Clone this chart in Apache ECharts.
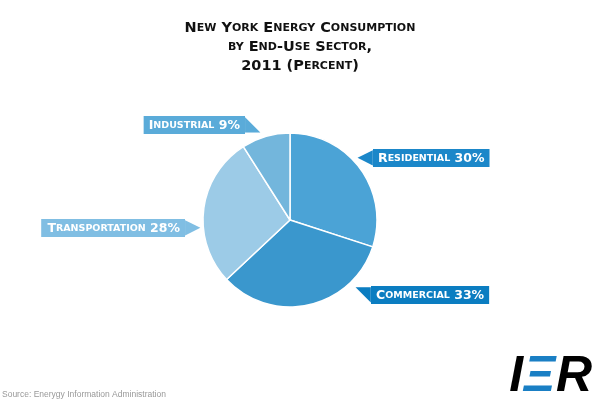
<!DOCTYPE html>
<html><head><meta charset="utf-8">
<script src="https://cdn.jsdelivr.net/npm/echarts@6/dist/echarts.min.js"></script>
<style>html,body{margin:0;padding:0;background:#fff}#c{width:600px;height:400px}</style>
</head><body><div id="c"></div>
<script>
var categories = ['Residential', 'Commercial', 'Transportation', 'Industrial'];
var values = [30, 33, 28, 9];
var sliceColors = ['#4ba3d6', '#3a97cd', '#9ccbe7', '#73b6dc'];
var tagColors = ['#1b87c9', '#0b7dc1', '#80bee3', '#5aabd9'];
var arrowGlyphs = ['◀', '◥', '▶', '◣'];

var FONT = 'DejaVu Sans';
function smallCaps(s, big, small) {
  var out = '';
  var re = /([A-Z0-9%()\-\s,.]+)|([a-z]+)/g, m;
  while ((m = re.exec(s))) {
    if (m[1]) out += '{' + big + '|' + m[1] + '}';
    else out += '{' + small + '|' + m[2].toUpperCase() + '}';
  }
  return out;
}

// label anchor positions (text tags beside the pie)
var tagPos = [
  {x: 373, y: 158, align: 'left'},
  {x: 371, y: 295, align: 'left'},
  {x: 185, y: 228, align: 'right'},
  {x: 245, y: 125, align: 'right'}
];

var chart = echarts.init(document.getElementById('c'));
var data = categories.map(function (c, i) {
  return {name: c, value: values[i], itemStyle: {color: sliceColors[i]},
    label: {backgroundColor: tagColors[i]}};
});
var arrowData = categories.map(function (c, i) {
  return {name: c, value: values[i], label: {color: tagColors[i]}};
});

chart.setOption({
  animation: false,
  title: [{
    text: smallCaps('New York Energy Consumption', 'c', 's') + '\n' +
          smallCaps('by End-Use Sector,', 'c', 's') + '\n' +
          smallCaps('2011 (Percent)', 'c', 's'),
    left: 'center', top: 19, textAlign: 'left', padding: 0,
    textStyle: {
      rich: {
        c: {fontFamily: FONT, fontWeight: 'bold', fontSize: 14.5, color: '#111', lineHeight: 19, align: 'center'},
        s: {fontFamily: FONT, fontWeight: 'bold', fontSize: 11, color: '#111', lineHeight: 19, align: 'center'}
      }
    }
  }, {
    text: 'Source: Enerygy Information Administration',
    left: 2, bottom: 1, padding: 0,
    textStyle: {fontFamily: 'Liberation Sans', fontWeight: 'normal', fontSize: 8.5, color: '#999'}
  }],
  graphic: [{
    type: 'text', right: 8, top: 352,
    style: {
      text: '{a|I}{b|Ξ}{a|R}',
      rich: {
        a: {fontFamily: 'Liberation Sans', fontStyle: 'italic', fontWeight: 'bold', fontSize: 50, fill: '#000'},
        b: {fontFamily: 'Liberation Sans', fontStyle: 'italic', fontWeight: 'bold', fontSize: 50, fill: '#1a7fc4'}
      }
    }
  }],
  series: [{
    type: 'pie',
    center: [290, 220], radius: 87,
    startAngle: 90, clockwise: true,
    itemStyle: {borderColor: '#fff', borderWidth: 1.5},
    emphasis: {disabled: true},
    data: data,
    labelLine: {show: false},
    label: {
      show: true, position: 'outside',
      formatter: function (p) { return smallCaps(p.name, 'c', 's') + '{c| ' + p.value + '%}'; },
      borderColor: '#ffffff', borderWidth: 1,
      padding: [3, 5, 2, 5],
      rich: {
        c: {fontFamily: FONT, fontWeight: 'bold', fontSize: 12.5, color: '#fff', lineHeight: 13},
        s: {fontFamily: FONT, fontWeight: 'bold', fontSize: 9.5, color: '#fff', lineHeight: 13}
      }
    },
    labelLayout: function (p) {
      var t = tagPos[p.dataIndex];
      return {x: t.x, y: t.y, align: t.align, verticalAlign: 'middle', hideOverlap: false, moveOverlap: false};
    }
  }, {
    type: 'pie', silent: true,
    center: [290, 220], radius: 87,
    startAngle: 90, clockwise: true,
    itemStyle: {color: 'rgba(0,0,0,0)', borderWidth: 0},
    emphasis: {disabled: true},
    data: arrowData,
    labelLine: {show: false},
    label: {
      show: true, position: 'outside',
      formatter: function (p) { return arrowGlyphs[p.dataIndex]; },
      fontFamily: 'DejaVu Sans', fontSize: 20, lineHeight: 20
    },
    labelLayout: function (p) {
      var t = tagPos[p.dataIndex];
      return {x: t.x, y: t.y, align: t.align === 'left' ? 'right' : 'left', verticalAlign: 'middle', hideOverlap: false, moveOverlap: false};
    }
  }]
});
</script></body></html>
